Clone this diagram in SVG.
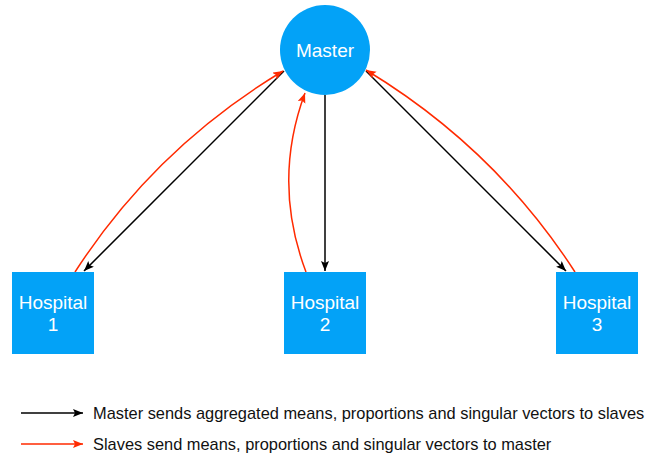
<svg xmlns="http://www.w3.org/2000/svg" width="646" height="459" viewBox="0 0 646 459">
<style>
.node{fill:#03A2F7}
.lbl{font-family:"Liberation Sans",Arial,sans-serif;font-size:19px;fill:#ffffff;text-anchor:middle}
.leg{font-family:"Liberation Sans",Arial,sans-serif;font-size:16.4px;fill:#111111}
.blk{stroke:#000000;stroke-width:1.5;fill:none}
.red{stroke:#FF2A00;stroke-width:1.5;fill:none}
</style>
<defs>
<marker id="ab" markerUnits="userSpaceOnUse" markerWidth="12" markerHeight="10" refX="10" refY="4" orient="auto">
<path d="M0,0 L10,4 L0,8 L2,4 Z" fill="#000000"/>
</marker>
<marker id="ar" markerUnits="userSpaceOnUse" markerWidth="12" markerHeight="10" refX="10" refY="4" orient="auto">
<path d="M0,0 L10,4 L0,8 L2,4 Z" fill="#FF2A00"/>
</marker>
</defs>
<g id="connectors">
<line class="blk" x1="284" y1="71" x2="84" y2="271" marker-end="url(#ab)"/>
<line class="blk" x1="325" y1="95" x2="325" y2="271" marker-end="url(#ab)"/>
<line class="blk" x1="366" y1="71" x2="566" y2="271" marker-end="url(#ab)"/>
<path class="red" d="M75,272 Q155,148 283,71" marker-end="url(#ar)"/>
<path class="red" d="M306,272 Q272,182 305,93" marker-end="url(#ar)"/>
<path class="red" d="M575,272 Q495,148 366,70" marker-end="url(#ar)"/>
</g>
<g id="master">
<circle class="node" cx="325" cy="50" r="45"/>
<text class="lbl" x="325" y="57">Master</text>
</g>
<g id="hospital1">
<rect class="node" x="12" y="272" width="82" height="82"/>
<text class="lbl" x="53" y="309">Hospital</text>
<text class="lbl" x="53" y="331">1</text>
</g>
<g id="hospital2">
<rect class="node" x="284" y="272" width="82" height="82"/>
<text class="lbl" x="325" y="309">Hospital</text>
<text class="lbl" x="325" y="331">2</text>
</g>
<g id="hospital3">
<rect class="node" x="556" y="272" width="82" height="82"/>
<text class="lbl" x="597" y="309">Hospital</text>
<text class="lbl" x="597" y="331">3</text>
</g>
<g id="legend">
<line class="blk" x1="21" y1="413" x2="83" y2="413" marker-end="url(#ab)"/>
<text class="leg" x="93" y="419">Master sends aggregated means, proportions and singular vectors to slaves</text>
<line class="red" x1="21" y1="444" x2="83" y2="444" marker-end="url(#ar)"/>
<text class="leg" x="93" y="450">Slaves send means, proportions and singular vectors to master</text>
</g>
</svg>
